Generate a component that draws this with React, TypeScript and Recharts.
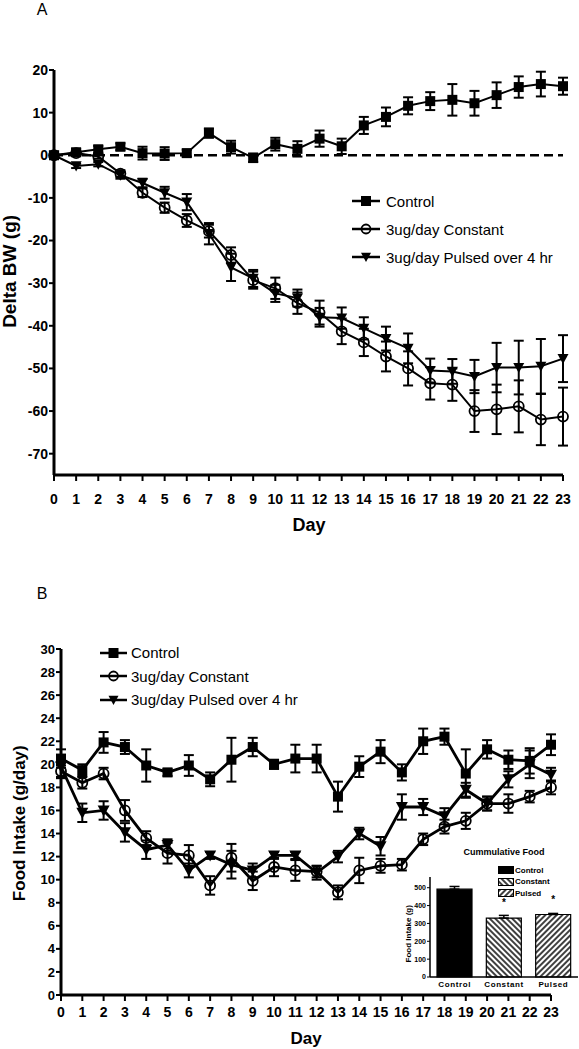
import React from 'react';
import {
  LineChart,
  Line,
  XAxis,
  YAxis,
  ErrorBar,
  ReferenceLine,
  Legend,
  BarChart,
  Bar,
  Cell,
  LabelList,
} from 'recharts';

const FONT = '"Liberation Sans", Arial, Helvetica, sans-serif';

// ---- data ----
const days = [0, 1, 2, 3, 4, 5, 6, 7, 8, 9, 10, 11, 12, 13, 14, 15, 16, 17, 18, 19, 20, 21, 22, 23];
const seriesNames = ['Control', '3ug/day Constant', '3ug/day Pulsed over 4 hr'];

// panel A: delta body weight (g), mean and SEM
const bwControl = [0, 0.7, 1.4, 2.0, 0.5, 0.4, 0.5, 5.2, 1.9, -0.6, 2.6, 1.5, 3.9, 2.1, 7.0, 9.0, 11.6, 12.7, 13.0, 12.2, 14.1, 16.0, 16.7, 16.2];
const bwControlErr = [0.5, 0.8, 0.8, 0.8, 1.5, 1.5, 0.8, 1.1, 1.5, 1.0, 1.5, 1.8, 1.9, 1.8, 2.0, 2.2, 2.0, 2.1, 3.7, 2.9, 3.0, 2.5, 2.9, 2.0];
const bwConstant = [0, 0.5, -0.3, -4.3, -8.8, -12.3, -15.3, -17.8, -23.4, -29.3, -31.2, -34.7, -36.9, -41.3, -43.9, -47.2, -50.0, -53.5, -53.8, -60.0, -59.6, -58.9, -62.0, -61.3];
const bwConstantErr = [0.3, 0.5, 0.5, 0.8, 1.0, 1.2, 1.5, 1.5, 1.8, 2.0, 2.5, 2.5, 2.8, 3.0, 3.2, 3.5, 4.0, 3.8, 3.8, 4.9, 5.8, 6.1, 6.0, 6.8];
const bwPulsed = [0, -2.5, -2.1, -4.7, -6.5, -8.8, -11.0, -18.4, -26.3, -28.9, -32.4, -33.5, -38.0, -38.2, -40.6, -43.0, -45.3, -50.5, -50.7, -51.9, -49.8, -49.8, -49.5, -47.7];
const bwPulsedErr = [0.3, 0.5, 0.5, 0.8, 1.0, 1.4, 1.9, 2.5, 3.2, 2.0, 2.0, 2.0, 2.2, 2.5, 2.6, 2.8, 3.5, 2.8, 2.9, 3.9, 5.8, 6.3, 6.4, 5.5];
const bwTicks = [-70, -60, -50, -40, -30, -20, -10, 0, 10, 20];

// panel B: food intake (g/day), mean and SEM
const fiControl = [20.5, 19.5, 21.9, 21.5, 19.9, 19.3, 19.9, 18.7, 20.4, 21.5, 20.0, 20.5, 20.5, 17.2, 19.8, 21.1, 19.3, 22.0, 22.4, 19.2, 21.3, 20.4, 20.3, 21.7];
const fiControlErr = [0.8, 0.5, 0.9, 0.6, 1.4, 0.3, 0.9, 0.6, 1.9, 0.8, 0.4, 1.2, 1.2, 1.3, 0.9, 1.0, 0.7, 1.1, 0.7, 2.1, 0.8, 0.8, 1.1, 0.9];
const fiConstant = [19.4, 18.4, 19.2, 16.0, 13.6, 12.3, 12.1, 9.5, 11.9, 9.9, 11.1, 10.8, 10.7, 8.9, 10.8, 11.2, 11.3, 13.5, 14.6, 15.1, 16.6, 16.6, 17.2, 18.0];
const fiConstantErr = [0.5, 0.5, 0.5, 0.9, 0.6, 0.9, 0.9, 0.8, 1.2, 0.8, 0.8, 0.9, 0.5, 0.6, 1.1, 0.6, 0.5, 0.5, 0.6, 0.7, 0.6, 0.8, 0.5, 0.6];
const fiPulsed = [19.8, 15.8, 16.0, 14.1, 12.6, 13.0, 10.8, 12.1, 11.3, 10.8, 12.1, 12.1, 10.6, 12.0, 14.0, 12.9, 16.3, 16.3, 15.5, 17.8, 16.6, 18.7, 20.0, 19.1];
const fiPulsedErr = [1.0, 0.8, 0.8, 0.8, 0.8, 0.5, 0.6, 0.3, 1.2, 0.6, 0.3, 0.3, 0.6, 0.5, 0.5, 0.8, 1.1, 0.7, 0.7, 0.6, 0.6, 0.7, 1.2, 0.6];
const fiTicks = [0, 2, 4, 6, 8, 10, 12, 14, 16, 18, 20, 22, 24, 26, 28, 30];

// inset: cumulative food (g)
const cumGroups = ['Control', 'Constant', 'Pulsed'];
const cumFood = [492, 330, 350];
const cumFoodErr = [15, 15, 6];
const cumSig = ['', '*', '*'];
const cumTicks = [0, 100, 200, 300, 400, 500];

const bwRows = days.map((d, i) => ({
  day: d,
  control: bwControl[i],
  controlErr: bwControlErr[i],
  constant: bwConstant[i],
  constantErr: bwConstantErr[i],
  pulsed: bwPulsed[i],
  pulsedErr: bwPulsedErr[i],
}));

const fiRows = days.map((d, i) => ({
  day: d,
  control: fiControl[i],
  controlErr: fiControlErr[i],
  constant: fiConstant[i],
  constantErr: fiConstantErr[i],
  pulsed: fiPulsed[i],
  pulsedErr: fiPulsedErr[i],
}));

const cumRows = cumGroups.map((g, i) => ({
  group: g,
  food: cumFood[i],
  errRange: [0, cumFoodErr[i]],
  sig: cumSig[i],
}));

const cumFills = ['#000', 'url(#hatchBack)', 'url(#hatchFwd)'];
const kinds = ['square', 'circle', 'triangle'];

// ---- markers ----
function marker(kind: string, cx: number, cy: number, s: number, key?: string) {
  if (kind === 'square') {
    return <rect key={key} x={cx - s / 2} y={cy - s / 2} width={s} height={s} fill="#000" />;
  }
  if (kind === 'circle') {
    return <circle key={key} cx={cx} cy={cy} r={s / 2 - 0.5} fill="none" stroke="#000" strokeWidth={1.8} />;
  }
  return (
    <path
      key={key}
      d={`M${cx - s / 2},${cy - s * 0.42}L${cx + s / 2},${cy - s * 0.42}L${cx},${cy + s * 0.5}Z`}
      fill="#000"
    />
  );
}

const dotOf = (kind: string, s: number) => (p: any) =>
  marker(kind, p.cx ?? 0, p.cy ?? 0, s, `${kind}-${p.index}`);

const tickStyle = (size: number) => ({ fontSize: size, fontWeight: 700, fill: '#000', fontFamily: FONT });
const axisLine = { stroke: '#000', strokeWidth: 3 };
const tickLine = { stroke: '#000', strokeWidth: 2 };

function SeriesLegend({ rowH, lineW, gap, size }: { rowH: number; lineW: number; gap: number; size: number }) {
  return (
    <div style={{ fontFamily: FONT, fontSize: 15, color: '#000' }}>
      {seriesNames.map((n, i) => (
        <div key={n} style={{ display: 'flex', alignItems: 'center', height: rowH, whiteSpace: 'nowrap' }}>
          <svg width={lineW} height={14} style={{ display: 'block' }}>
            <line x1={0} y1={7} x2={lineW} y2={7} stroke="#000" strokeWidth={2.5} />
            {marker(kinds[i], lineW / 2, 7, size)}
          </svg>
          <span style={{ marginLeft: gap }}>{n}</span>
        </div>
      ))}
    </div>
  );
}

function CumLegend() {
  return (
    <div style={{ position: 'relative', width: 120, height: 56, fontFamily: FONT, fontWeight: 700, color: '#000' }}>
      <div style={{ position: 'absolute', left: 0, top: 0, width: 120, textAlign: 'center', fontSize: 9, lineHeight: '14px' }}>
        Cummulative Food
      </div>
      {cumGroups.map((g, i) => (
        <div
          key={g}
          style={{ position: 'absolute', left: 54, top: 20 + i * 11.5, height: 10, display: 'flex', alignItems: 'center', fontSize: 8 }}
        >
          <svg width={16} height={8} style={{ display: 'block' }}>
            <rect x={0.5} y={0.5} width={15} height={7} fill={cumFills[i]} stroke="#000" strokeWidth={1} />
          </svg>
          <span style={{ marginLeft: 1 }}>{g}</span>
        </div>
      ))}
    </div>
  );
}

function Title({ text, cx, cy, size, bold, rotate }: { text: string; cx: number; cy: number; size: number; bold?: boolean; rotate?: boolean }) {
  return (
    <div
      style={{
        position: 'absolute',
        left: cx - 150,
        top: cy - size * 0.6,
        width: 300,
        textAlign: 'center',
        fontSize: size,
        lineHeight: `${size * 1.2}px`,
        fontWeight: bold ? 700 : 400,
        whiteSpace: 'nowrap',
        transform: rotate ? 'rotate(-90deg)' : undefined,
        color: '#000',
      }}
    >
      {text}
    </div>
  );
}

export default function App() {
  return (
    <div style={{ position: 'absolute', left: 0, top: 0, width: 579, height: 1049, background: '#fff', fontFamily: FONT, overflow: 'hidden' }}>
      {/* Panel A */}
      <div style={{ position: 'absolute', left: 0, top: 0 }}>
        <LineChart width={579} height={520} data={bwRows} margin={{ top: 70, right: 16, bottom: 15, left: 0 }}>
          <XAxis
            dataKey="day"
            type="number"
            domain={[0, 23]}
            ticks={days}
            interval={0}
            height={30}
            tick={tickStyle(14)}
            tickSize={6}
            tickMargin={13}
            axisLine={axisLine}
            tickLine={tickLine}
          />
          <YAxis
            type="number"
            domain={[-75, 20]}
            ticks={bwTicks}
            interval={0}
            width={54}
            tick={tickStyle(14)}
            tickSize={5}
            tickMargin={1}
            axisLine={axisLine}
            tickLine={tickLine}
          />
          <ReferenceLine y={0} stroke="#000" strokeWidth={2.5} strokeDasharray="9 5" />
          <Line dataKey="control" name={seriesNames[0]} stroke="#000" strokeWidth={2} dot={dotOf('square', 10)} isAnimationActive={false}>
            <ErrorBar dataKey="controlErr" width={5} stroke="#000" strokeWidth={2} direction="y" />
          </Line>
          <Line dataKey="constant" name={seriesNames[1]} stroke="#000" strokeWidth={2} dot={dotOf('circle', 11)} isAnimationActive={false}>
            <ErrorBar dataKey="constantErr" width={5} stroke="#000" strokeWidth={2} direction="y" />
          </Line>
          <Line dataKey="pulsed" name={seriesNames[2]} stroke="#000" strokeWidth={2} dot={dotOf('triangle', 11)} isAnimationActive={false}>
            <ErrorBar dataKey="pulsedErr" width={5} stroke="#000" strokeWidth={2} direction="y" />
          </Line>
          <Legend
            layout="vertical"
            verticalAlign="middle"
            align="center"
            wrapperStyle={{ left: 352, top: 187, width: 227 }}
            content={() => <SeriesLegend rowH={28} lineW={28} gap={6} size={10} />}
          />
        </LineChart>
      </div>

      {/* Panel B */}
      <div style={{ position: 'absolute', left: 0, top: 560 }}>
        <LineChart width={579} height={475} data={fiRows} margin={{ top: 89, right: 28, bottom: 10, left: 0 }}>
          <XAxis
            dataKey="day"
            type="number"
            domain={[0, 23]}
            ticks={days}
            interval={0}
            height={30}
            tick={tickStyle(14)}
            tickSize={6}
            tickMargin={6}
            axisLine={axisLine}
            tickLine={tickLine}
          />
          <YAxis
            type="number"
            domain={[0, 30]}
            ticks={fiTicks}
            interval={0}
            width={61}
            tick={tickStyle(13)}
            tickSize={5}
            tickMargin={1}
            axisLine={axisLine}
            tickLine={tickLine}
          />
          <Line dataKey="control" name={seriesNames[0]} stroke="#000" strokeWidth={2.8} dot={dotOf('square', 10)} isAnimationActive={false}>
            <ErrorBar dataKey="controlErr" width={5} stroke="#000" strokeWidth={2} direction="y" />
          </Line>
          <Line dataKey="constant" name={seriesNames[1]} stroke="#000" strokeWidth={2.8} dot={dotOf('circle', 11)} isAnimationActive={false}>
            <ErrorBar dataKey="constantErr" width={5} stroke="#000" strokeWidth={2} direction="y" />
          </Line>
          <Line dataKey="pulsed" name={seriesNames[2]} stroke="#000" strokeWidth={2.8} dot={dotOf('triangle', 12)} isAnimationActive={false}>
            <ErrorBar dataKey="pulsedErr" width={5} stroke="#000" strokeWidth={2} direction="y" />
          </Line>
          <Legend
            layout="vertical"
            verticalAlign="middle"
            align="center"
            wrapperStyle={{ left: 100, top: 81, width: 230 }}
            content={() => <SeriesLegend rowH={23.5} lineW={27} gap={4} size={10} />}
          />
        </LineChart>
      </div>

      {/* Inset: cumulative food */}
      <div style={{ position: 'absolute', left: 380, top: 840 }}>
        <BarChart width={199} height={155} data={cumRows} margin={{ top: 37, right: 1, bottom: 0, left: 0 }} barSize={35}>
          <defs>
            <pattern id="hatchBack" patternUnits="userSpaceOnUse" width={4} height={4} patternTransform="rotate(-45)">
              <rect width={4} height={4} fill="#fff" />
              <line x1={2} y1={0} x2={2} y2={4} stroke="#000" strokeWidth={1.5} />
            </pattern>
            <pattern id="hatchFwd" patternUnits="userSpaceOnUse" width={4} height={4} patternTransform="rotate(45)">
              <rect width={4} height={4} fill="#fff" />
              <line x1={2} y1={0} x2={2} y2={4} stroke="#000" strokeWidth={1.5} />
            </pattern>
          </defs>
          <XAxis
            dataKey="group"
            height={18}
            tick={{ ...tickStyle(8), letterSpacing: 0.6 }}
            tickLine={false}
            tickSize={2}
            tickMargin={2}
            axisLine={{ stroke: '#000', strokeWidth: 1.5 }}
          />
          <YAxis
            type="number"
            domain={[0, 560]}
            ticks={cumTicks}
            interval={0}
            width={50}
            tick={tickStyle(7)}
            tickSize={3}
            tickMargin={1}
            axisLine={{ stroke: '#000', strokeWidth: 1.5 }}
            tickLine={{ stroke: '#000', strokeWidth: 1 }}
          />
          <Bar dataKey="food" stroke="#000" strokeWidth={1.2} isAnimationActive={false}>
            {cumRows.map((r, i) => (
              <Cell key={r.group} fill={cumFills[i]} />
            ))}
            <ErrorBar dataKey="errRange" width={5} stroke="#000" strokeWidth={1.5} direction="y" />
            <LabelList dataKey="sig" position="top" offset={12} fill="#000" style={{ fontSize: 10, fontWeight: 700, fontFamily: FONT }} />
          </Bar>
          <Legend
            layout="vertical"
            verticalAlign="middle"
            align="center"
            wrapperStyle={{ left: 64, top: 5, width: 120 }}
            content={() => <CumLegend />}
          />
        </BarChart>
      </div>

      <Title text="A" cx={42} cy={10} size={16} />
      <Title text="B" cx={42} cy={594} size={16} />
      <Title text="Delta BW (g)" cx={10} cy={271} size={19} bold rotate />
      <Title text="Day" cx={309} cy={526} size={18} bold />
      <Title text="Food Intake (g/day)" cx={20} cy={823} size={17} bold rotate />
      <Title text="Day" cx={306} cy={1039} size={17} bold />
      <Title text="Food Intake (g)" cx={409} cy={934} size={8} bold rotate />
    </div>
  );
}
